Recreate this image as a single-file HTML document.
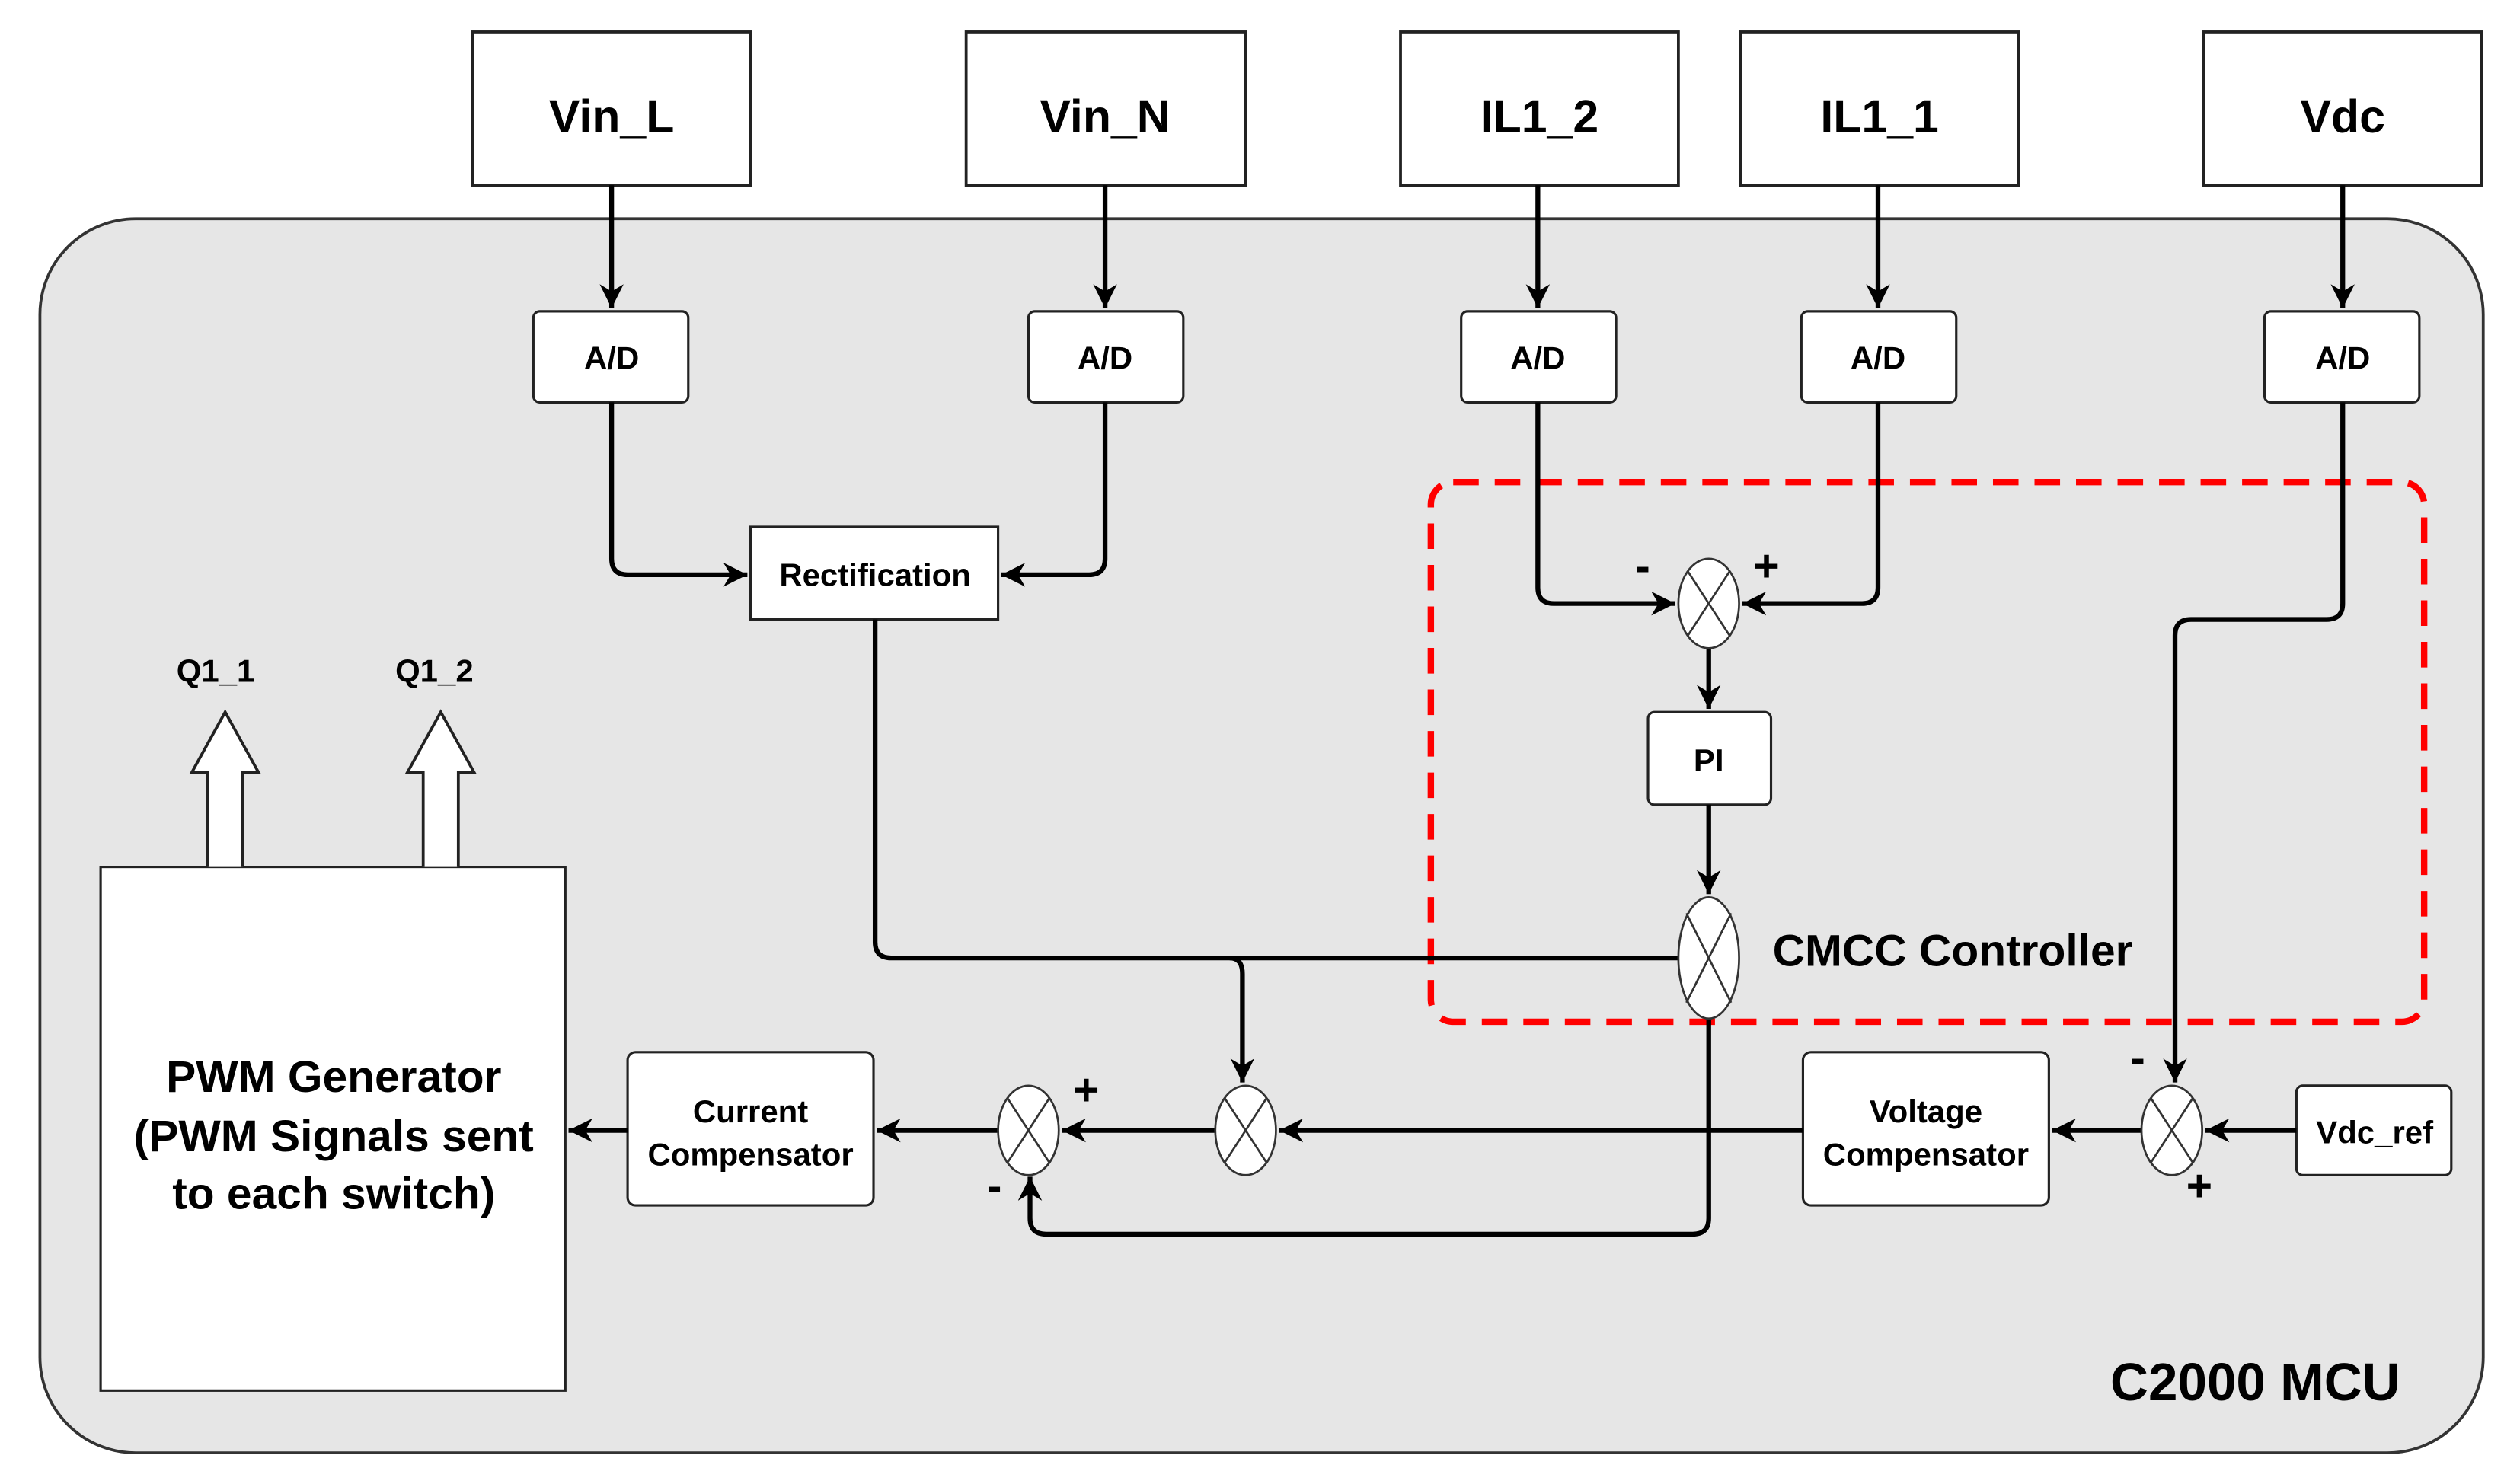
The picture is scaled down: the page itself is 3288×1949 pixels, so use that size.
<!DOCTYPE html>
<html><head><meta charset="utf-8"><style>
html,body{margin:0;padding:0;background:#fff;}
svg{display:block;}
text{font-family:"Liberation Sans",Arial,sans-serif;font-weight:bold;fill:#000;}
</style></head><body>
<svg width="3288" height="1949" viewBox="0 0 1568 929.5" preserveAspectRatio="none" xmlns="http://www.w3.org/2000/svg">
<defs>
<marker id="a" viewBox="0 0 10 10" refX="10" refY="5" markerWidth="5" markerHeight="5" orient="auto" markerUnits="strokeWidth">
<path d="M0,0 L10,5 L0,10 L3,5 Z" fill="#000"/>
</marker>
</defs>
<rect x="25" y="137" width="1530" height="773" rx="60" fill="#e6e6e6" stroke="#333" stroke-width="1.8"/>
<!-- top boxes -->
<g fill="#fff" stroke="#222" stroke-width="1.8">
<rect x="296" y="20" width="174" height="96"/>
<rect x="605" y="20" width="175" height="96"/>
<rect x="877" y="20" width="174" height="96"/>
<rect x="1090" y="20" width="174" height="96"/>
<rect x="1380" y="20" width="174" height="96"/>
</g>
<g font-size="29" text-anchor="middle">
<text x="383" y="83">Vin_L</text>
<text x="692" y="83">Vin_N</text>
<text x="964" y="83">IL1_2</text>
<text x="1177" y="83">IL1_1</text>
<text x="1467" y="83">Vdc</text>
</g>
<!-- A/D -->
<g fill="#fff" stroke="#222" stroke-width="1.5">
<rect x="334" y="195" width="97" height="57" rx="4"/>
<rect x="644" y="195" width="97" height="57" rx="4"/>
<rect x="915" y="195" width="97" height="57" rx="4"/>
<rect x="1128" y="195" width="97" height="57" rx="4"/>
<rect x="1418" y="195" width="97" height="57" rx="4"/>
<rect x="470" y="330" width="155" height="58"/>
<rect x="1032" y="446" width="77" height="58" rx="4"/>
<rect x="1438" y="680" width="97" height="56" rx="4"/>
<rect x="1129" y="659" width="154" height="96" rx="5"/>
<rect x="393" y="659" width="154" height="96" rx="5"/>
<rect x="63" y="543" width="291" height="328"/>
</g>
<g font-size="20" text-anchor="middle">
<text x="383" y="231">A/D</text>
<text x="692" y="231">A/D</text>
<text x="963" y="231">A/D</text>
<text x="1176" y="231">A/D</text>
<text x="1467" y="231">A/D</text>
<text x="548" y="367">Rectification</text>
<text x="1070" y="483">PI</text>
<text x="1487" y="716">Vdc_ref</text>
<text x="1206" y="703">Voltage</text>
<text x="1206" y="730">Compensator</text>
<text x="470" y="703">Current</text>
<text x="470" y="730">Compensator</text>
<text x="135" y="427">Q1_1</text>
<text x="272" y="427">Q1_2</text>
</g>
<g font-size="28" text-anchor="middle">
<text x="209" y="684">PWM Generator</text>
<text x="209" y="721">(PWM Signals sent</text>
<text x="209" y="757">to each switch)</text>
</g>
<text x="1110" y="605" font-size="28">CMCC Controller</text>
<text x="1503" y="877" font-size="33" text-anchor="end">C2000 MCU</text>
<!-- red dashed -->
<rect x="896" y="302" width="622" height="338" rx="14" fill="none" stroke="#f00" stroke-width="4" stroke-dasharray="16 10"/>
<!-- connectors -->
<g fill="none" stroke="#000" stroke-width="3">
<line x1="383" y1="116" x2="383" y2="193" marker-end="url(#a)"/>
<line x1="692" y1="116" x2="692" y2="193" marker-end="url(#a)"/>
<line x1="963" y1="116" x2="963" y2="193" marker-end="url(#a)"/>
<line x1="1176" y1="116" x2="1176" y2="193" marker-end="url(#a)"/>
<line x1="1467" y1="116" x2="1467" y2="193" marker-end="url(#a)"/>
<path d="M383,252 V350 Q383,360 393,360 H468" marker-end="url(#a)"/>
<path d="M692,252 V350 Q692,360 682,360 H627" marker-end="url(#a)"/>
<path d="M963,252 V368 Q963,378 973,378 H1049" marker-end="url(#a)"/>
<path d="M1176,252 V368 Q1176,378 1166,378 H1091" marker-end="url(#a)"/>
<line x1="1070" y1="406" x2="1070" y2="444" marker-end="url(#a)"/>
<line x1="1070" y1="504" x2="1070" y2="560" marker-end="url(#a)"/>
<path d="M548,388 V590 Q548,600 558,600 H1051"/>
<path d="M770,600 Q778,600 778,610 V678" marker-end="url(#a)"/>
<path d="M1467,252 V378 Q1467,388 1457,388 H1372 Q1362,388 1362,398 V678" marker-end="url(#a)"/>
<line x1="1438" y1="708" x2="1381" y2="708" marker-end="url(#a)"/>
<line x1="1341" y1="708" x2="1285" y2="708" marker-end="url(#a)"/>
<line x1="1129" y1="708" x2="801" y2="708" marker-end="url(#a)"/>
<line x1="761" y1="708" x2="665" y2="708" marker-end="url(#a)"/>
<line x1="625" y1="708" x2="549" y2="708" marker-end="url(#a)"/>
<line x1="393" y1="708" x2="356" y2="708" marker-end="url(#a)"/>
<path d="M1070,638 V763 Q1070,773 1060,773 H655 Q645,773 645,763 V737" marker-end="url(#a)"/>
</g>
<!-- summing junctions -->
<g fill="#fff" stroke="#333" stroke-width="1.3">
<ellipse cx="1070" cy="378" rx="19" ry="28"/>
<path d="M1057,358 L1083,398 M1083,358 L1057,398"/>
<ellipse cx="1070" cy="600" rx="19" ry="38"/>
<path d="M1056,572 L1084,628 M1084,572 L1056,628"/>
<ellipse cx="780" cy="708" rx="19" ry="28"/>
<path d="M767,688 L793,728 M793,688 L767,728"/>
<ellipse cx="1360" cy="708" rx="19" ry="28"/>
<path d="M1347,688 L1373,728 M1373,688 L1347,728"/>
<ellipse cx="644" cy="708" rx="19" ry="28"/>
<path d="M631,688 L657,728 M657,688 L631,728"/>
</g>
<g font-size="28">
<text x="1024" y="364">-</text>
<text x="1098" y="364">+</text>
<text x="1334" y="672">-</text>
<text x="1369" y="752">+</text>
<text x="618" y="752">-</text>
<text x="672" y="692">+</text>
</g>
<!-- hollow arrows -->
<g fill="#fff" stroke="#222" stroke-width="1.8">
<path d="M130,543 V484 H120 L141,446 L162,484 H152 V543"/>
<path d="M265,543 V484 H255 L276,446 L297,484 H287 V543"/>
</g>
</svg>
</body></html>
